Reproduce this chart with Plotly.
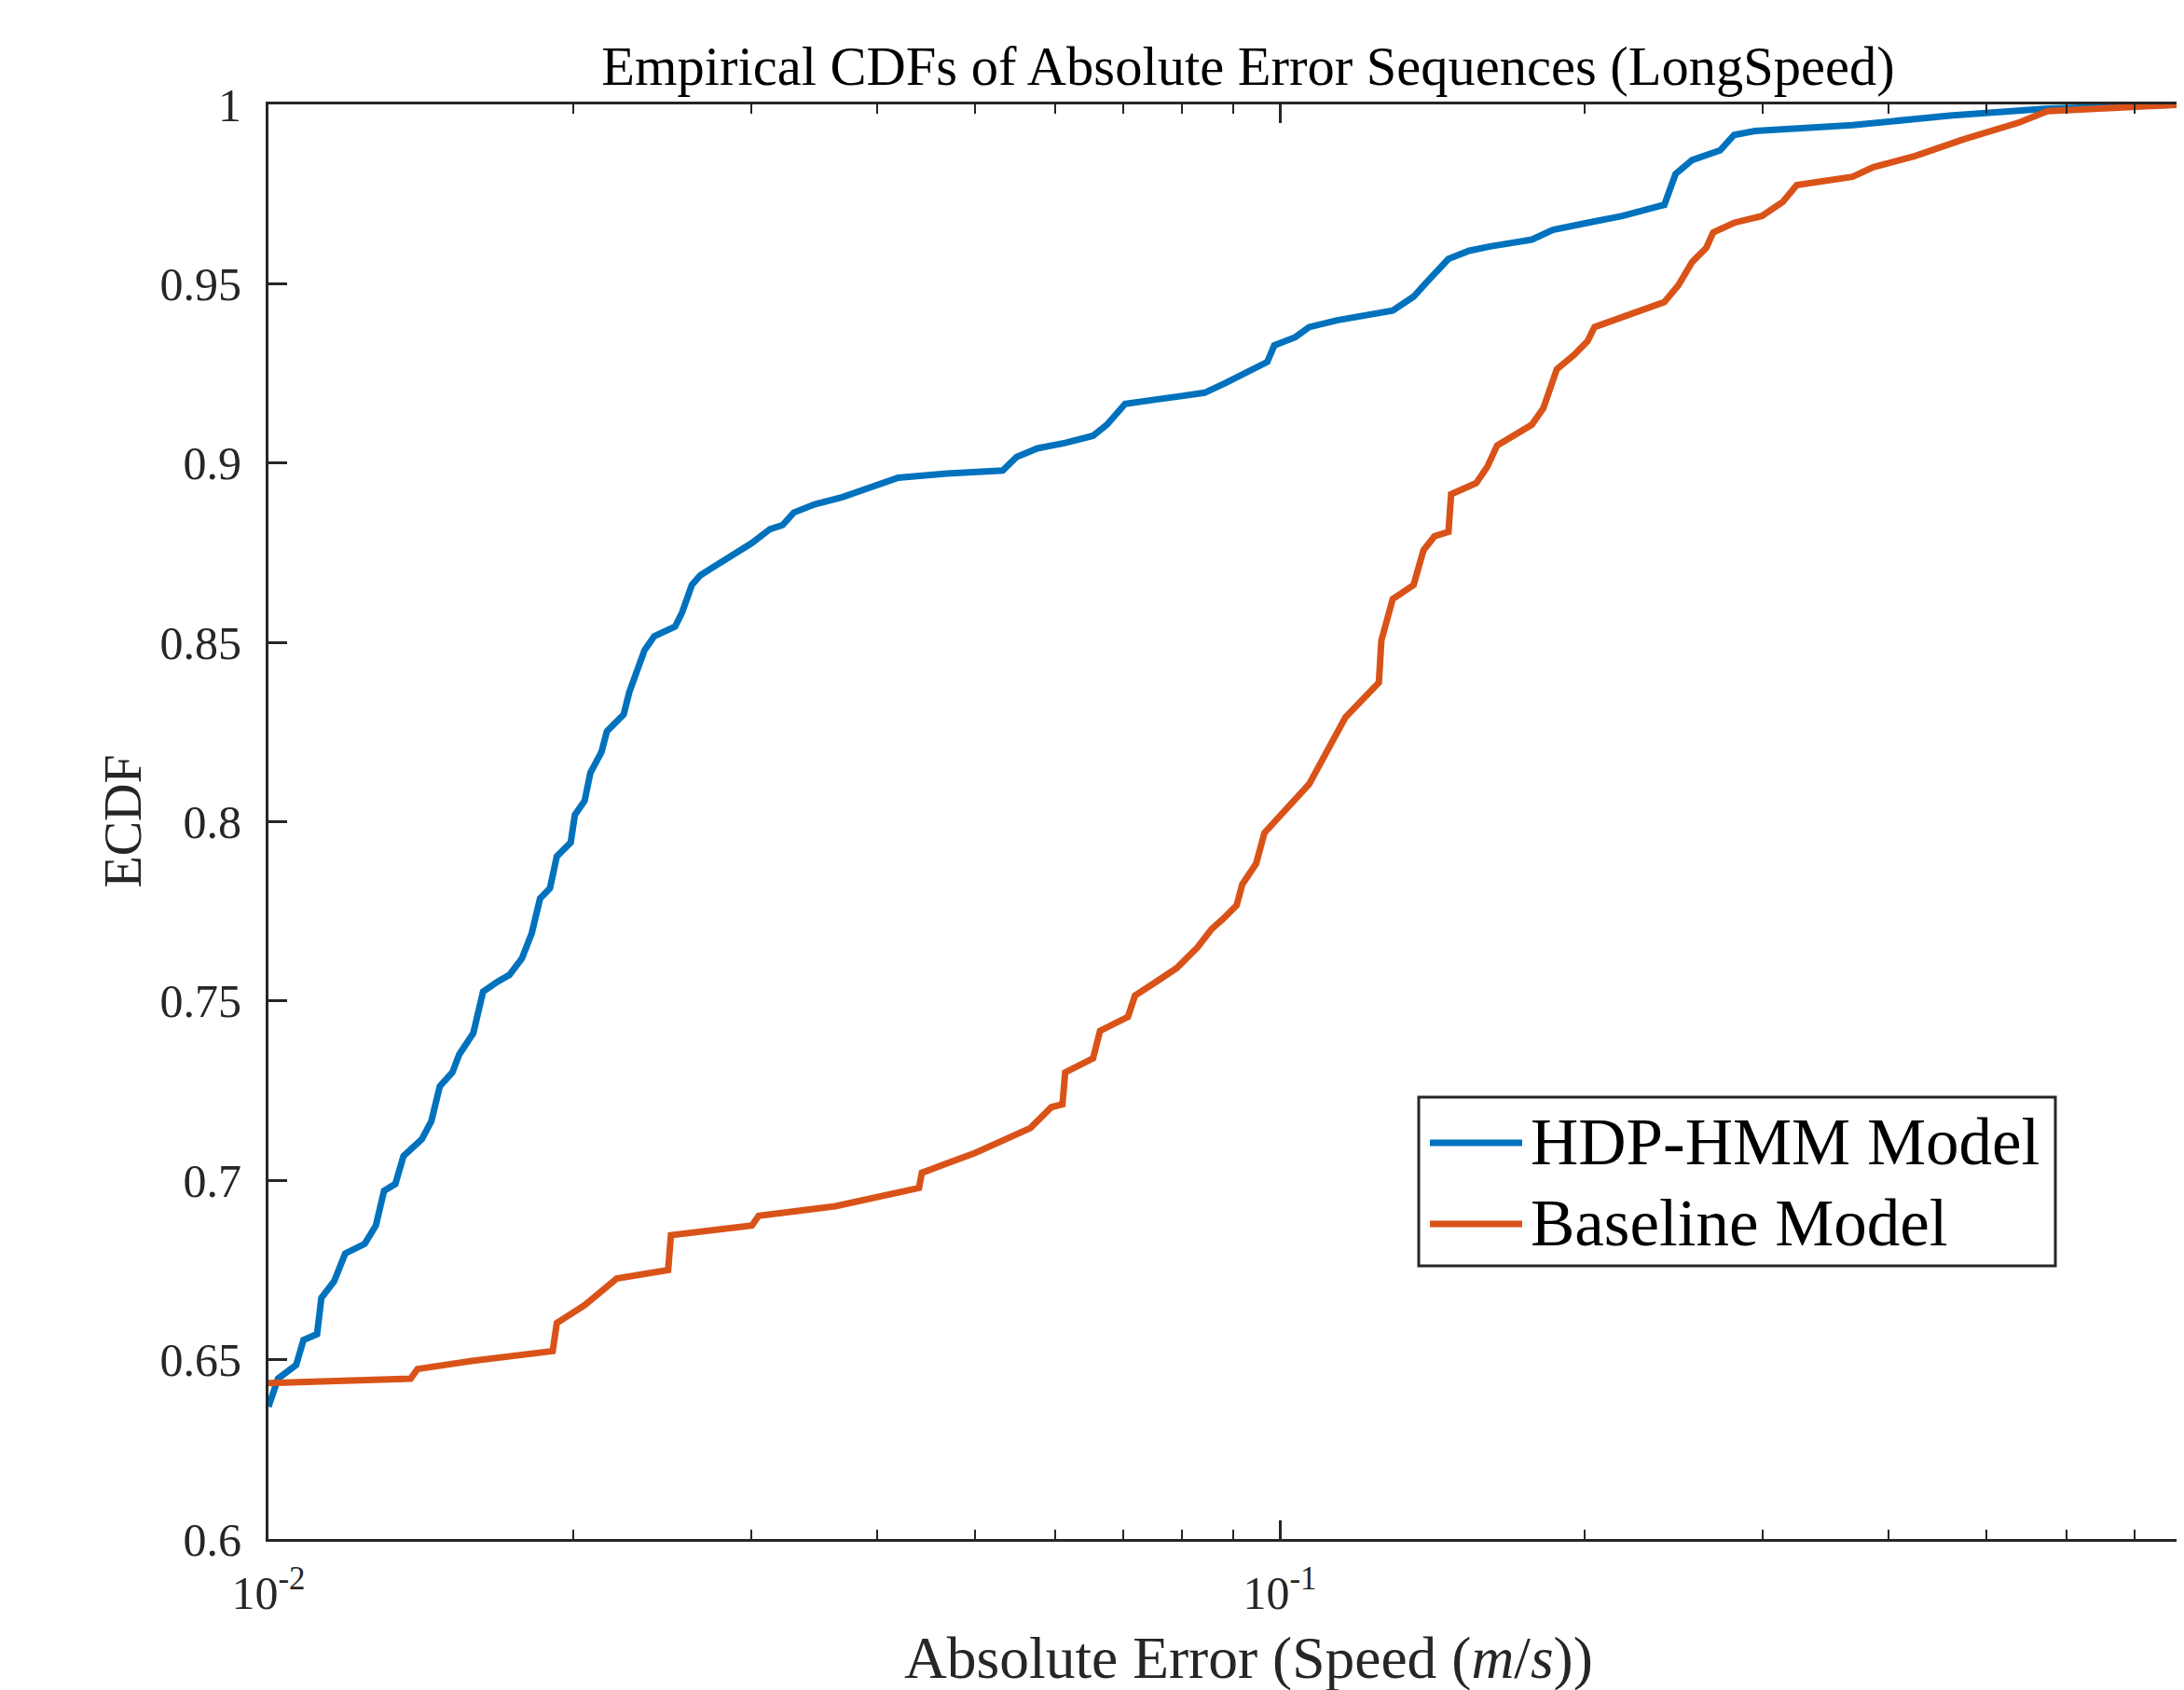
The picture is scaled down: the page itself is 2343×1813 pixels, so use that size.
import plotly.graph_objects as go

# ---------------- data ----------------
hdp_x = [0.01000, 0.01022, 0.01065, 0.01083, 0.01117, 0.01128, 0.01161, 0.01191, 0.01245, 0.01277,
         0.01301, 0.01335, 0.01360, 0.01418, 0.01449, 0.01477, 0.01520, 0.01544, 0.01594, 0.01630,
         0.01683, 0.01731, 0.01781, 0.01821, 0.01856, 0.01898, 0.01928, 0.01990, 0.02009, 0.02054,
         0.02081, 0.02134, 0.02161, 0.02245, 0.02274, 0.02317, 0.02354, 0.02407, 0.02524, 0.02564,
         0.02622, 0.02673, 0.02821, 0.03006, 0.03133, 0.03224, 0.03307, 0.03467, 0.03693, 0.03936,
         0.04194, 0.04686, 0.05321, 0.05492, 0.05759, 0.06135, 0.06536, 0.06747, 0.07032, 0.07540,
         0.08426, 0.08836, 0.09415, 0.09718, 0.09874, 0.1036, 0.1069, 0.1139, 0.1293, 0.1356,
         0.1400, 0.1468, 0.1539, 0.1614, 0.1775, 0.1862, 0.2015, 0.2182, 0.2400, 0.2462,
         0.2557, 0.2725, 0.2813, 0.2950, 0.3683, 0.4598, 0.5741, 0.7831, 1.0]
hdp_y = [0.6369, 0.6447, 0.6485, 0.6555, 0.6571, 0.6672, 0.6718, 0.6796, 0.6823, 0.6874,
         0.6971, 0.6990, 0.7068, 0.7115, 0.7165, 0.7262, 0.7301, 0.7351, 0.7410, 0.7526,
         0.7553, 0.7573, 0.7619, 0.7689, 0.7786, 0.7814, 0.7903, 0.7942, 0.8019, 0.8058,
         0.8136, 0.8194, 0.8252, 0.8299, 0.8361, 0.8427, 0.8478, 0.8517, 0.8544, 0.8583,
         0.8660, 0.8687, 0.8726, 0.8777, 0.8816, 0.8827, 0.8862, 0.8885, 0.8905, 0.8932,
         0.8959, 0.8971, 0.8979, 0.9017, 0.9041, 0.9056, 0.9076, 0.9107, 0.9165, 0.9177,
         0.9196, 0.9223, 0.9262, 0.9282, 0.9328, 0.9351, 0.9379, 0.9398, 0.9425, 0.9464,
         0.9507, 0.9569, 0.9592, 0.9604, 0.9623, 0.9650, 0.9670, 0.9689, 0.9720, 0.9806,
         0.9845, 0.9872, 0.9915, 0.9926, 0.9942, 0.9969, 0.9988, 1.0, 1.0]

base_x = [0.01000, 0.01382, 0.01404, 0.01594, 0.01910, 0.01928, 0.02054, 0.02210, 0.02484, 0.02500,
          0.03006, 0.03053, 0.03635, 0.03936, 0.04398, 0.04426, 0.04994, 0.05668, 0.05945, 0.06096,
          0.06135, 0.06536, 0.06641, 0.07077, 0.07191, 0.07540, 0.07909, 0.08293, 0.08562, 0.08780,
          0.09064, 0.09180, 0.09475, 0.09657, 0.09968, 0.1029, 0.1069, 0.1103, 0.1139, 0.1161,
          0.1253, 0.1260, 0.1293, 0.1356, 0.1387, 0.1422, 0.1468, 0.1477, 0.1564, 0.1604,
          0.1640, 0.1720, 0.1775, 0.1822, 0.1879, 0.1953, 0.2015, 0.2047, 0.2182, 0.2400,
          0.2477, 0.2557, 0.2640, 0.2682, 0.2813, 0.2997, 0.3142, 0.3244, 0.3683, 0.3862,
          0.4247, 0.4746, 0.5387, 0.5741, 0.7831, 1.0]
base_y = [0.6435, 0.6447, 0.6474, 0.6497, 0.6524, 0.6602, 0.6652, 0.6726, 0.6750, 0.6847,
          0.6874, 0.6901, 0.6928, 0.6951, 0.6979, 0.7021, 0.7076, 0.7146, 0.7204, 0.7212,
          0.7301, 0.7340, 0.7417, 0.7456, 0.7515, 0.7553, 0.7592, 0.7650, 0.7701, 0.7728,
          0.7767, 0.7825, 0.7883, 0.7969, 0.8012, 0.8058, 0.8105, 0.8175, 0.8245, 0.8291,
          0.8388, 0.8505, 0.8621, 0.8660, 0.8757, 0.8796, 0.8808, 0.8913, 0.8944, 0.8990,
          0.9049, 0.9087, 0.9107, 0.9153, 0.9262, 0.9301, 0.9340, 0.9379, 0.9406, 0.9449,
          0.9495, 0.9561, 0.9600, 0.9643, 0.9670, 0.9689, 0.9728, 0.9775, 0.9798, 0.9825,
          0.9856, 0.9903, 0.9950, 0.9981, 1.0, 1.0]

series_names = ["HDP-HMM Model", "Baseline Model"]
series_colors = ["#0072BD", "#D95319"]

x_major_vals = [0.01, 0.1]
x_major_text = ["10<sup>-2</sup>", "10<sup>-1</sup>"]
x_minor_vals = [0.02, 0.03, 0.04, 0.05, 0.06, 0.07, 0.08, 0.09, 0.2, 0.3, 0.4, 0.5, 0.6, 0.7]
y_tick_vals = [0.6, 0.65, 0.7, 0.75, 0.8, 0.85, 0.9, 0.95, 1.0]
y_tick_text = ["0.6", "0.65", "0.7", "0.75", "0.8", "0.85", "0.9", "0.95", "1"]

title_text = "Empirical CDFs of Absolute Error Sequences (LongSpeed)"
xlabel_text = "Absolute Error (Speed (<i>m</i>/<i>s</i>))"
ylabel_text = "ECDF"

# ---------------- figure ----------------
# page body adds an 8px margin; positions below are in page pixels
OFF = 8
W, H = 2343 - OFF, 1813 - OFF
PL, PT, PB, PR = 288, 112, 1651, 2343      # plot-area edges in page pixels
L, T = PL - OFF, PT - OFF
B = H - (PB - OFF)
R = 0
FONT = "Liberation Serif, Times New Roman, serif"
AX = "#262626"

fig = go.Figure()
for xs, ys, name, col in [(hdp_x, hdp_y, series_names[0], series_colors[0]),
                          (base_x, base_y, series_names[1], series_colors[1])]:
    fig.add_trace(go.Scatter(x=xs, y=ys, mode="lines", name=name,
                             line=dict(color=col, width=7), showlegend=False))

pw = PR - PL
ph = PB - PT


def px_x(p):
    return (p - PL) / pw


def px_y(p):
    return (PB - p) / ph


fig.update_layout(
    width=W, height=H,
    margin=dict(l=L, r=R, t=T, b=B, pad=0),
    paper_bgcolor="white", plot_bgcolor="white",
    font=dict(family=FONT, color=AX),
    title=dict(text=title_text, x=px_x(1339), xref="paper", xanchor="center",
               y=1 - (71 - OFF) / H, yref="container", yanchor="middle",
               font=dict(family=FONT, size=58.5, color="#000000")),
    xaxis=dict(type="log", range=[-2, -0.106],
               tickmode="array", tickvals=x_major_vals, ticktext=x_major_text,
               ticks="inside", ticklen=20, tickwidth=3, tickcolor=AX,
               showline=True, linewidth=3, linecolor=AX, mirror="ticks",
               showgrid=False, zeroline=False,
               tickfont=dict(family=FONT, size=50, color=AX),
               ticklabelstandoff=12,
               minor=dict(tickmode="array", tickvals=x_minor_vals, ticks="inside",
                          ticklen=10, tickwidth=2, tickcolor=AX, showgrid=False)),
    yaxis=dict(range=[0.6, 1.0],
               tickmode="array", tickvals=y_tick_vals, ticktext=y_tick_text,
               ticks="inside", ticklen=20, tickwidth=3, tickcolor=AX,
               showline=True, linewidth=3, linecolor=AX, mirror=False,
               showgrid=False, zeroline=False,
               tickfont=dict(family=FONT, size=50, color=AX),
               ticklabelstandoff=16),
    showlegend=False,
)

# axis labels
fig.add_annotation(text=xlabel_text, xref="paper", yref="paper",
                   x=px_x(1339), y=px_y(1778), xanchor="center", yanchor="middle",
                   showarrow=False, font=dict(family=FONT, size=63.5, color=AX))
fig.add_annotation(text=ylabel_text, xref="paper", yref="paper",
                   x=px_x(131), y=0.5, xanchor="center", yanchor="middle", textangle=-90,
                   showarrow=False, font=dict(family=FONT, size=56, color=AX))

# legend (box, line samples, labels)
fig.add_shape(type="rect", xref="paper", yref="paper",
              x0=px_x(1522), x1=px_x(2205), y0=px_y(1358), y1=px_y(1177),
              line=dict(color=AX, width=3), fillcolor="white", layer="above")
for name, col, yc in [(series_names[0], series_colors[0], 1226),
                      (series_names[1], series_colors[1], 1313)]:
    fig.add_shape(type="line", xref="paper", yref="paper",
                  x0=px_x(1534), x1=px_x(1633), y0=px_y(yc), y1=px_y(yc),
                  line=dict(color=col, width=7), layer="above")
    fig.add_annotation(text=name, xref="paper", yref="paper",
                       x=px_x(1640), y=px_y(yc - 1), xanchor="left", yanchor="middle",
                       showarrow=False, font=dict(family=FONT, size=71, color="#000000"))

fig.write_html("out.html")
